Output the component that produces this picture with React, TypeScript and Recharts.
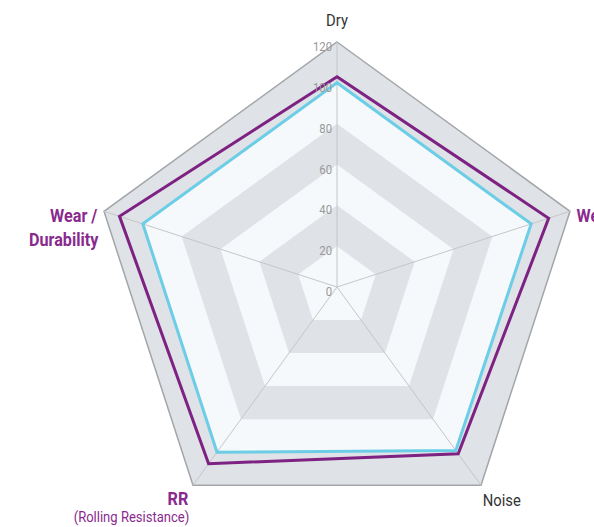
import React from "react";
import {
  RadarChart,
  Radar,
  PolarGrid,
  PolarAngleAxis,
  PolarRadiusAxis,
} from "recharts";

const categories = ["Dry", "Wet", "Noise", "RR", "Wear"];
const purpleValues = [103, 109, 101, 107, 112];
const blueValues = [100, 100, 99, 100, 100];
const radiusTicks = [0, 20, 40, 60, 80, 100, 120];
// filled rings, largest first (each drawn over the previous one)
const bandLevels = [120, 100, 80, 60, 40, 20];

const W = 594;
const H = 527;
const CX = 337;
const CY = 287;
const R = 245;

const PURPLE = "#7d2182";
const PURPLE_TEXT = "#8a2a8e";
const BLUE = "#6ccde6";
const GRAY_BAND = "#dfe2e6";
const LIGHT_BAND = "#f6f9fb";
const FONT = "Roboto, 'Noto Sans', sans-serif";

const data = categories.map((c, i) => {
  const row: Record<string, string | number> = {
    axis: c,
    purple: purpleValues[i],
    blue: blueValues[i],
  };
  bandLevels.forEach((b) => {
    row["band" + b] = b;
  });
  return row;
});

// condensed text: draw at the anchor point and squeeze horizontally
const Label = ({ x, y, anchor, size, bold, color, squeeze = 0.87, children }: any) => (
  <g transform={`translate(${x},${y}) scale(${squeeze},1)`}>
    <text
      x={0}
      y={0}
      textAnchor={anchor}
      fontSize={size}
      fontWeight={bold ? "bold" : "normal"}
      fill={color}
      fontFamily={FONT}
    >
      {children}
    </text>
  </g>
);

const angleTick = (props: any) => {
  const { x, y, payload } = props;
  const v = payload.value;
  if (v === "Dry") {
    return <Label x={x} y={y - 8} anchor="middle" size={17} color="#333">Dry</Label>;
  }
  if (v === "Wet") {
    return <Label x={x - 1} y={y + 13} anchor="start" size={18} bold squeeze={0.9} color={PURPLE_TEXT}>Wet</Label>;
  }
  if (v === "Noise") {
    return <Label x={x - 3} y={y + 14} anchor="start" size={17} color="#333">Noise</Label>;
  }
  if (v === "RR") {
    return (
      <g>
        <Label x={x} y={y + 13} anchor="end" size={18} bold squeeze={0.9} color={PURPLE_TEXT}>RR</Label>
        <Label x={x + 1} y={y + 30} anchor="end" size={14.5} squeeze={0.9} color={PURPLE_TEXT}>(Rolling Resistance)</Label>
      </g>
    );
  }
  return (
    <g>
      <Label x={x + 1} y={y + 13} anchor="end" size={18} bold squeeze={0.9} color={PURPLE_TEXT}>Wear /</Label>
      <Label x={x + 2} y={y + 37} anchor="end" size={18} bold squeeze={0.9} color={PURPLE_TEXT}>Durability</Label>
    </g>
  );
};

const radiusTick = (props: any) => {
  const { x, y, payload } = props;
  return (
    <Label x={x - 5} y={y + 9} anchor="end" size={13} color="#999">
      {payload.value}
    </Label>
  );
};

export default function App() {
  return (
    <div style={{ position: "absolute", left: 0, top: 0, width: W, height: H, background: "#fff" }}>
      <div style={{ position: "absolute", left: 0, top: 0 }}>
        <RadarChart width={W} height={H} data={data} cx={CX} cy={CY} outerRadius={R}>
          <PolarAngleAxis dataKey="axis" tick={false} axisLine={false} tickLine={false} />
          <PolarRadiusAxis domain={[0, 120]} ticks={radiusTicks} tick={false} axisLine={false} />
          {bandLevels.map((b, i) => (
            <Radar
              key={b}
              dataKey={"band" + b}
              stroke={i === 0 ? "#a3a6a9" : "none"}
              strokeWidth={1.5}
              fill={i % 2 === 0 ? GRAY_BAND : LIGHT_BAND}
              fillOpacity={1}
              isAnimationActive={false}
            />
          ))}
        </RadarChart>
      </div>
      <div style={{ position: "absolute", left: 0, top: 0 }}>
        <RadarChart width={W} height={H} data={data} cx={CX} cy={CY} outerRadius={R}>
          <PolarGrid gridType="polygon" polarRadius={[0]} stroke="#c4c6c8" strokeWidth={1} />
          <PolarAngleAxis dataKey="axis" tick={angleTick} axisLine={false} tickLine={false} />
          <PolarRadiusAxis
            angle={90}
            domain={[0, 120]}
            ticks={radiusTicks}
            tick={radiusTick}
            axisLine={false}
            tickLine={false}
          />
          <Radar
            dataKey="purple"
            stroke={PURPLE}
            strokeWidth={3}
            fill="none"
            fillOpacity={0}
            isAnimationActive={false}
          />
          <Radar
            dataKey="blue"
            stroke={BLUE}
            strokeWidth={3}
            fill="none"
            fillOpacity={0}
            isAnimationActive={false}
          />
        </RadarChart>
      </div>
    </div>
  );
}
